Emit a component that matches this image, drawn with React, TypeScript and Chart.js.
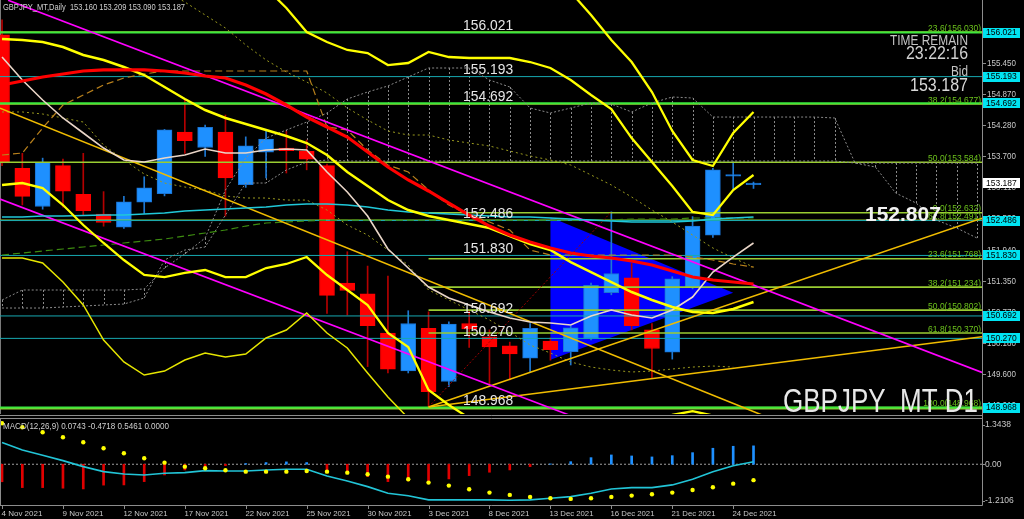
import React, { useEffect, useRef } from "react";
import { Chart, registerables } from "chart.js";

Chart.register(...registerables);

// ---------------- DATA ----------------
const barDates = ["4 Nov","5 Nov","8 Nov","9 Nov","10 Nov","11 Nov","12 Nov","15 Nov","16 Nov","17 Nov","18 Nov","19 Nov","22 Nov","23 Nov","24 Nov","25 Nov","26 Nov","29 Nov","30 Nov","1 Dec","2 Dec","3 Dec","6 Dec","7 Dec","8 Dec","9 Dec","10 Dec","13 Dec","14 Dec","15 Dec","16 Dec","17 Dec","20 Dec","21 Dec","22 Dec","23 Dec","24 Dec","27 Dec"];
const dateYear = "2021";
const dateLabelStep = 3;

const opens  = [155.98,153.47,152.75,153.52,152.98,152.61,152.36,152.83,152.99,154.15,153.86,154.15,153.16,153.77,153.85,153.79,153.52,151.31,151.11,150.37,149.66,150.46,149.46,150.55,150.30,150.13,149.90,150.22,150.02,150.27,151.13,151.41,150.43,150.01,151.23,152.21,153.32,153.16];
const highs  = [156.26,153.75,153.66,153.64,153.75,153.03,152.94,153.31,154.20,154.75,154.28,154.47,154.06,154.19,154.16,154.00,153.55,151.90,151.63,151.44,150.79,150.77,150.58,150.80,150.43,150.20,150.55,150.28,150.50,151.31,152.65,151.68,150.55,151.43,152.56,153.47,153.59,153.21];
const lows   = [153.52,152.78,152.70,152.74,152.59,152.38,152.34,152.62,152.95,153.75,153.69,152.57,153.11,153.29,153.38,153.44,150.74,150.71,149.74,149.62,149.62,148.97,149.36,150.10,149.36,149.49,149.64,149.86,149.77,150.24,151.09,150.43,149.52,149.88,151.20,152.17,153.07,153.09];
const closes = [153.57,152.94,153.58,153.04,152.67,152.45,152.84,153.10,154.19,153.99,154.24,153.29,153.89,154.02,153.80,153.64,151.08,151.17,150.51,149.69,150.55,149.27,150.54,150.45,150.11,149.98,150.46,150.06,150.47,151.27,151.49,150.51,150.08,151.39,152.38,153.44,153.35,153.19];

const redMA = [155.035,155.111,155.186,155.242,155.299,155.318,155.318,155.318,155.299,155.261,155.205,155.167,155.035,154.866,154.659,154.433,154.245,154.057,153.775,153.493,153.249,153.042,152.816,152.590,152.383,152.214,152.082,151.970,151.876,151.819,151.782,151.725,151.650,151.537,151.424,151.368,151.330,151.293];
const bandA = [155.900,155.882,155.844,155.750,155.600,155.506,155.374,155.223,154.998,154.772,154.565,154.415,154.302,154.189,154.076,153.944,153.719,153.399,153.136,152.872,152.684,152.571,152.496,152.421,152.346,152.195,152.045,151.932,151.706,151.518,151.330,151.142,150.992,150.860,150.766,150.747,150.822,150.954];
const bandB = [153.155,153.192,153.098,152.778,152.402,152.064,151.744,151.462,151.424,151.500,151.556,151.424,151.424,151.593,151.669,151.800,151.462,151.180,150.898,150.371,150.108,149.299,149.017,148.772,148.547,148.359,148.359,148.359,148.359,148.359,148.400,148.500,148.700,148.830,148.900,148.820,148.547,148.170];
const bandC = [151.782,151.782,151.688,151.330,150.898,150.239,149.826,149.581,149.656,149.863,149.995,149.920,149.976,150.277,150.427,150.747,150.371,150.089,149.619,149.167,148.772,148.359];
const bandD = [null,null,null,null,null,null,null,null,null,null,null,null,157.292,156.860,156.484,156.032,155.844,155.694,155.637,155.411,155.449,155.656,155.562,155.543,155.543,155.543,155.468,155.355,155.129,154.847,154.584,154.038,153.587,153.136,152.647,152.590,153.060,153.343];
const bandE = [null,null,null,null,null,null,null,null,null,null,null,null,null,null,null,null,null,null,null,null,null,null,null,null,null,null,null,157.198,156.784,156.352,155.882,155.468,154.904,154.170,153.625,153.512,154.133,154.528];
const paleMA = [155.562,155.129,154.753,154.415,154.133,153.850,153.625,153.587,153.662,153.719,153.832,153.757,153.757,153.813,153.832,153.813,153.399,153.023,152.571,151.951,151.594,151.236,151.029,150.898,150.766,150.653,150.578,150.559,150.521,150.690,150.804,150.710,150.653,150.804,151.048,151.518,151.800,152.064];
const cyanMA = [152.553,152.553,152.572,152.572,152.581,152.590,152.590,152.609,152.628,152.666,152.684,152.703,152.722,152.741,152.778,152.797,152.797,152.778,152.741,152.684,152.647,152.628,152.609,152.590,152.572,152.553,152.553,152.534,152.515,152.496,152.477,152.459,152.459,152.459,152.477,152.515,152.534,152.553];
const greenMA = [151.838,151.876,151.913,151.951,151.989,152.026,152.064,152.101,152.139,152.195,152.252,152.308,152.383,152.440,152.459,152.477,152.496,152.496,152.496,152.496,152.496,152.496,152.496,152.496,152.496,152.496,152.496,152.496,152.496,152.496,152.496,152.515,152.515,152.515,152.534,152.534,152.534,152.534];
const kijun = [153.719,153.756,154.227,154.659,154.847,155.035,155.167,155.242,155.299,155.299,155.299,155.299,155.299,155.299,155.299,155.299,154.245,154.189,153.813,153.531,153.399,153.061,152.778,152.590,152.459,152.308,151.932,151.838,151.838,151.838,151.838,151.838,151.838,151.838,151.800,151.744,151.669,151.612];
const oliveUpper = [null,null,null,null,null,null,null,null,156.822,156.596,156.352,156.107,155.788,155.506,155.280,155.092,154.885,154.603,154.377,154.170,154.095,154.095,154.001,153.944,153.888,153.794,153.700,153.625,153.531,153.343,153.155,152.929,152.684,152.459,152.214,151.970,151.782,151.612];
const oliveLower = [154.528,154.528,154.490,154.415,154.339,153.907,153.625,153.361,153.192,153.117,153.061,152.948,152.910,152.910,152.872,152.872,152.684,152.402,152.214,151.932,151.650,151.180,150.992,150.804,150.616,150.390,150.145,149.995,149.826,149.731,149.675,149.638,149.656,149.694,149.731,149.750,149.731];
const cloudSpanA = [150.992,151.180,151.180,151.180,151.180,151.180,151.180,151.199,151.594,151.858,152.158,153.061,153.662,154.038,154.189,154.339,154.509,154.772,154.904,155.017,155.186,155.355,155.355,155.355,155.129,154.998,154.603,154.509,154.603,154.697,154.678,154.528,154.697,154.810,154.791,154.433,154.433,154.433,154.433,154.433,154.433,154.415,153.568,153.493,153.004,152.816,152.496,152.346,152.158];
const cloudSpanB = [150.841,150.841,150.841,150.860,150.879,150.898,150.916,151.029,151.744,151.932,151.989,152.590,153.192,153.192,153.437,153.587,153.625,153.606,153.606,153.606,153.606,153.606,153.606,153.606,153.606,153.606,153.606,153.606,153.606,153.606,153.606,153.606,153.606,153.606,153.606,153.606,153.606,153.606,153.606,153.606,153.606,153.606,153.568,153.568,153.568,153.568,153.568,153.568,153.568];

const macdLine   = [0.647,0.424,0.27,0.107,-0.071,-0.22,-0.288,-0.318,-0.267,-0.249,-0.19,-0.199,-0.199,-0.169,-0.148,-0.148,-0.347,-0.496,-0.665,-0.861,-0.935,-1.059,-1.059,-1.059,-1.059,-1.068,-1.059,-1.009,-0.961,-0.861,-0.733,-0.694,-0.694,-0.614,-0.445,-0.22,-0.042,0.074];
const macdSignal = [1.217,1.098,0.95,0.801,0.653,0.475,0.326,0.178,0.047,-0.071,-0.119,-0.178,-0.22,-0.22,-0.22,-0.199,-0.22,-0.249,-0.297,-0.368,-0.445,-0.546,-0.635,-0.742,-0.843,-0.911,-0.97,-1.009,-1.03,-1.009,-0.97,-0.932,-0.89,-0.843,-0.763,-0.682,-0.576,-0.472];
const macdHist   = [-0.52,-0.694,-0.694,-0.712,-0.733,-0.62,-0.614,-0.516,-0.318,-0.169,-0.071,-0.04,0.02,0.05,0.07,0.05,-0.169,-0.267,-0.366,-0.516,-0.495,-0.564,-0.436,-0.338,-0.237,-0.169,-0.071,0.01,0.077,0.196,0.276,0.246,0.217,0.255,0.344,0.475,0.534,0.546];

const priceTicks = [156.030,155.450,154.870,154.280,153.700,153.110,152.530,151.940,151.350,150.770,150.180,149.600,149.010];
const macdTicks = [1.3438, 0.0, -1.2106];
const levelPrices = [156.021,155.193,154.692,152.486,151.830,150.692,150.270,148.968];
const greenLevelPrices = [156.021,154.692,148.968];
const bidPrice = 153.187;
const fibMainPct = ["23.6","38.2","50.0","61.8"];
const fibMainPrices = [156.030,154.677,153.584,152.491];
const fibMainFull = 148.950;
const fibSwingPct = ["0.0","23.6","38.2","50.0","61.8","100.0"];
const fibSwingPrices = [152.632,151.768,151.234,150.802,150.370,148.968];
const fibSwingStart = 21;

const magentaUpper = [[0.3,156.63],[48.25,149.63]];
const magentaLower = [[-0.1,152.89],[28.6,148.73]];
const goldDown = [[-0.1,154.60],[38,148.74]];
const goldUpSteep = [[21,148.98],[48.25,152.53]];
const goldUpFlat = [[21,148.98],[48.25,150.30]];
const redDotted = [[21,148.98],[30,152.65]];
const wedgeTriangle = [[27,152.55],[27,149.87],[36,151.13]];

const headerText = "GBPJPY_MT,Daily  153.160 153.209 153.090 153.187";
const macdText = "MACD(12,26,9) 0.0743 -0.4718 0.5461 0.0000";
const timeRemain = "23:22:16";
const bigValue = "152.807";
const symbolText = "GBPJPY_MT D1";

// ---------------- LAYOUT CONSTANTS ----------------
const X_MIN = -0.1;
const X_MAX = 48.25;
const PRICE_MIN = 148.848;
const PRICE_MAX = 156.634;
const MACD_MIN = -1.2106;
const MACD_MAX = 1.3438;
const LEVEL_LABEL_INDEX = 22.7;
const FONT = "'Liberation Sans', Arial, sans-serif";
const AXIS_TXT = "#c8c8c8";

const pts = (arr: (number | null)[]) => arr.map((v, i) => ({ x: i, y: v }));
const seg = (p: number[][]) => p.map(([x, y]) => ({ x, y }));
const hline = (v: number, from = X_MIN) => [{ x: from, y: v }, { x: X_MAX, y: v }];

function lineDs(data: any[], color: string, width: number, order: number, extra: any = {}) {
  return { type: "line", data, borderColor: color, borderWidth: width, pointRadius: 0, fill: false, tension: 0, clip: 0, order, ...extra };
}

function text(ctx: CanvasRenderingContext2D, s: string, x: number, y: number, size: number, color: string, align: CanvasTextAlign = "left", maxW?: number, weight = "normal", baseline: CanvasTextBaseline = "alphabetic") {
  ctx.font = `${weight} ${size}px ${FONT}`;
  ctx.fillStyle = color;
  ctx.textAlign = align;
  ctx.textBaseline = baseline;
  if (maxW !== undefined) ctx.fillText(s, x, y, maxW);
  else ctx.fillText(s, x, y);
}

const mainDecor = {
  id: "mainDecor",
  beforeDatasetsDraw(chart: any) {
    const { ctx, chartArea: a, scales } = chart;
    const x = scales.x, y = scales.y;
    ctx.save();
    ctx.beginPath();
    ctx.rect(a.left, a.top, a.right - a.left, a.bottom - a.top);
    ctx.clip();
    ctx.strokeStyle = "#7a7a7a";
    ctx.lineWidth = 1;
    ctx.beginPath(); ctx.moveTo(0.5, 0); ctx.lineTo(0.5, a.bottom); ctx.stroke();
    ctx.strokeStyle = "#8a8a8a";
    ctx.setLineDash([2, 2]);
    cloudSpanA.forEach((v, i) => {
      const px = Math.round(x.getPixelForValue(i)) + 0.5;
      ctx.beginPath();
      ctx.moveTo(px, y.getPixelForValue(v));
      ctx.lineTo(px, y.getPixelForValue(cloudSpanB[i]));
      ctx.stroke();
    });
    ctx.setLineDash([]);
    ctx.fillStyle = "#0000ff";
    ctx.beginPath();
    wedgeTriangle.forEach(([ix, p], k) => {
      const px = x.getPixelForValue(ix), py = y.getPixelForValue(p);
      if (k === 0) ctx.moveTo(px, py); else ctx.lineTo(px, py);
    });
    ctx.closePath();
    ctx.fill();
    ctx.restore();
  },
  afterDatasetsDraw(chart: any) {
    const { ctx, chartArea: a, scales } = chart;
    const x = scales.x, y = scales.y;
    ctx.save();
    const lx = x.getPixelForValue(LEVEL_LABEL_INDEX);
    levelPrices.forEach((v) => {
      text(ctx, v.toFixed(3), lx, y.getPixelForValue(v) - 2.5, 15, "#e6e6e6", "left", 50);
    });
    fibMainPct.forEach((pct, i) => {
      text(ctx, `${pct}(${fibMainPrices[i].toFixed(3)})`, a.right - 1, y.getPixelForValue(fibMainPrices[i]) - 1.5, 8.5, "#6cc21c", "right", 54);
    });
    fibSwingPct.forEach((pct, i) => {
      text(ctx, `${pct}(${fibSwingPrices[i].toFixed(3)})`, a.right - 1, y.getPixelForValue(fibSwingPrices[i]) - 1.5, 8.5, "#6cc21c", "right", 58);
    });
    text(ctx, "TIME REMAIN", 968, 44.5, 15, "#c4c4c4", "right", 78);
    text(ctx, timeRemain, 968, 58.5, 17.5, "#d0d0d0", "right", 62);
    text(ctx, "Bid", 968, 76, 15, "#c4c4c4", "right", 17);
    text(ctx, bidPrice.toFixed(3), 968, 90.5, 18.5, "#d8d8d8", "right", 58);
    text(ctx, bigValue, 865, 221, 21, "#f2f2f2", "left", 80, "bold");
    text(ctx, symbolText, 783, 412, 33, "#e8e8e8", "left", 195);
    text(ctx, headerText, 3, 10, 8.5, "#d0d0d0", "left", 182);
    ctx.restore();
  },
  afterDraw(chart: any) {
    const { ctx, chartArea: a, scales } = chart;
    const y = scales.y;
    ctx.save();
    ctx.strokeStyle = "#8c8c8c";
    ctx.lineWidth = 1;
    ctx.beginPath(); ctx.moveTo(a.right + 0.5, 0); ctx.lineTo(a.right + 0.5, chart.height); ctx.stroke();
    ctx.beginPath(); ctx.moveTo(0, a.bottom + 1.5); ctx.lineTo(a.right + 0.5, a.bottom + 1.5); ctx.stroke();
    priceTicks.forEach((v) => {
      const py = Math.round(y.getPixelForValue(v)) + 0.5;
      ctx.beginPath(); ctx.moveTo(a.right, py); ctx.lineTo(a.right + 4, py); ctx.stroke();
      text(ctx, v.toFixed(3), a.right + 5, py, 8.5, AXIS_TXT, "left", 29, "normal", "middle");
    });
    levelPrices.forEach((v) => {
      const py = y.getPixelForValue(v);
      ctx.fillStyle = "#00e4f2";
      ctx.fillRect(a.right + 1, Math.round(py) - 5, 37, 10);
      text(ctx, v.toFixed(3), a.right + 4, py, 8.5, "#000000", "left", 31, "normal", "middle");
    });
    const bp = y.getPixelForValue(bidPrice);
    ctx.fillStyle = "#ffffff";
    ctx.fillRect(a.right + 1, Math.round(bp) - 5, 37, 10);
    text(ctx, bidPrice.toFixed(3), a.right + 4, bp, 8.5, "#000000", "left", 31, "normal", "middle");
    ctx.restore();
  },
};

const macdDecor = {
  id: "macdDecor",
  afterDraw(chart: any) {
    const { ctx, chartArea: a, scales } = chart;
    const x = scales.x, y = scales.y;
    ctx.save();
    ctx.strokeStyle = "#8c8c8c";
    ctx.lineWidth = 1;
    ctx.beginPath(); ctx.moveTo(0, a.top - 0.5); ctx.lineTo(a.right + 0.5, a.top - 0.5); ctx.stroke();
    ctx.beginPath(); ctx.moveTo(0, a.bottom + 0.5); ctx.lineTo(a.right + 0.5, a.bottom + 0.5); ctx.stroke();
    ctx.beginPath(); ctx.moveTo(a.right + 0.5, 0); ctx.lineTo(a.right + 0.5, a.bottom + 0.5); ctx.stroke();
    ctx.beginPath(); ctx.moveTo(0.5, a.top); ctx.lineTo(0.5, a.bottom); ctx.stroke();
    macdTicks.forEach((v) => {
      let py = y.getPixelForValue(v);
      if (v === MACD_MAX) py += 6;
      if (v === MACD_MIN) py -= 4.5;
      ctx.beginPath(); ctx.moveTo(a.right, Math.round(py) + 0.5); ctx.lineTo(a.right + 3, Math.round(py) + 0.5); ctx.stroke();
      text(ctx, v === 0 ? "0.00" : v.toFixed(4), a.right + 3, py, 8.5, AXIS_TXT, "left", 36, "normal", "middle");
    });
    barDates.forEach((d, i) => {
      if (i % dateLabelStep !== 0) return;
      const px = Math.round(x.getPixelForValue(i)) + 0.5;
      ctx.beginPath(); ctx.moveTo(px, a.bottom); ctx.lineTo(px, a.bottom + 4); ctx.stroke();
      text(ctx, `${d} ${dateYear}`, px - 1, a.bottom + 10.5, 8, AXIS_TXT, "left", 44);
    });
    text(ctx, macdText, 3, a.top + 10, 8.5, "#d0d0d0", "left", 166);
    ctx.restore();
  },
};

const xScaleCfg = { type: "linear", min: X_MIN, max: X_MAX, display: false, offset: false, grid: { offset: false } };

function buildMain(): any {
  const up = closes.map((c, i) => c >= opens[i]);
  const datasets: any[] = [];
  datasets.push({
    type: "bar", data: barDates.map((_, i) => ({ x: i, y: [lows[i], highs[i]] })),
    backgroundColor: up.map((u) => (u ? "#1e78d2" : "#b40000")), barThickness: 1, grouped: false, clip: 0, order: 60,
  });
  datasets.push({
    type: "bar", data: barDates.map((_, i) => ({ x: i, y: [opens[i], closes[i]] })),
    backgroundColor: up.map((u) => (u ? "#1e90ff" : "#ff0000")),
    borderColor: up.map((u) => (u ? "#1a74d4" : "#ff0000")), borderWidth: 1, borderSkipped: false,
    barThickness: 15, grouped: false, clip: 0, order: 59,
  });
  fibMainPrices.forEach((v) => datasets.push(lineDs(hline(v), "#9acd32", 1.6, 52)));
  datasets.push(lineDs(hline(fibMainFull), "#9acd32", 1.6, 52));
  fibSwingPrices.forEach((v) => datasets.push(lineDs(hline(v, fibSwingStart), "#9acd32", 1.6, 52)));
  levelPrices.forEach((v) => {
    const g = greenLevelPrices.includes(v);
    datasets.push(lineDs(hline(v), g ? "#3de83d" : "#17a8b0", g ? 2 : 1, 51));
  });
  datasets.push(lineDs(pts(cloudSpanA), "#8a8a8a", 1, 48, { borderDash: [2, 2] }));
  datasets.push(lineDs(pts(cloudSpanB), "#8a8a8a", 1, 48, { borderDash: [2, 2] }));
  datasets.push(lineDs(pts(greenMA), "#3d8c10", 1.2, 46, { borderDash: [7, 4] }));
  datasets.push(lineDs(pts(kijun), "#b8801c", 1.2, 46, { borderDash: [7, 4] }));
  datasets.push(lineDs(pts(oliveUpper), "#9a9a1e", 1, 46, { borderDash: [2, 3] }));
  datasets.push(lineDs(pts(oliveLower), "#9a9a1e", 1, 46, { borderDash: [2, 3] }));
  datasets.push(lineDs(seg(redDotted), "#a00000", 1, 40, { borderDash: [2, 2] }));
  datasets.push(lineDs(seg(magentaUpper), "#ff00ff", 1.6, 38));
  datasets.push(lineDs(seg(magentaLower), "#ff00ff", 1.6, 38));
  datasets.push(lineDs(seg(goldDown), "#f0bc00", 1.6, 38));
  datasets.push(lineDs(seg(goldUpSteep), "#f0bc00", 1.6, 38));
  datasets.push(lineDs(seg(goldUpFlat), "#f0bc00", 1.6, 38));
  datasets.push(lineDs(pts(cyanMA), "#20c8d8", 1.6, 30));
  datasets.push(lineDs(pts(paleMA), "#ead6c8", 1.6, 29));
  datasets.push(lineDs(pts(bandC), "#e6e600", 1.5, 25));
  datasets.push(lineDs(pts(bandB), "#ffff00", 2.3, 24));
  datasets.push(lineDs(pts(bandD), "#ffff00", 2.3, 24));
  datasets.push(lineDs(pts(bandE), "#ffff00", 2.3, 24));
  datasets.push(lineDs(pts(bandA), "#ffff00", 2.5, 23));
  datasets.push(lineDs(pts(redMA), "#ff0000", 3.2, 20));
  return {
    type: "line",
    data: { datasets },
    options: {
      animation: false, responsive: false, maintainAspectRatio: false, events: [],
      layout: { padding: { left: 0, right: 42, top: 0, bottom: 2 }, autoPadding: false },
      plugins: { legend: { display: false }, tooltip: { enabled: false }, title: { display: false } },
      scales: {
        x: xScaleCfg,
        y: { type: "linear", min: PRICE_MIN, max: PRICE_MAX, display: false, beginAtZero: false },
      },
    },
    plugins: [mainDecor],
  };
}

function buildMacd(): any {
  const datasets: any[] = [
    lineDs(macdLine.map((v, i) => ({ x: i, y: v })), "#22c4d6", 1.6, 5),
    lineDs(macdSignal.map((v, i) => ({ x: i, y: v })), "#ffff00", 0, 4, {
      showLine: false, pointRadius: 2.2, pointBackgroundColor: "#ffff00", pointBorderWidth: 0,
    }),
    {
      type: "bar", data: macdHist.map((v, i) => ({ x: i, y: v })),
      backgroundColor: macdHist.map((v) => (v >= 0 ? "#1e90ff" : "#e00000")),
      barThickness: 2, grouped: false, clip: 0, order: 8,
    },
    lineDs([{ x: X_MIN, y: 0 }, { x: X_MAX, y: 0 }], "#a0a0a0", 1, 9, { borderDash: [2, 2] }),
  ];
  return {
    type: "line",
    data: { datasets },
    options: {
      animation: false, responsive: false, maintainAspectRatio: false, events: [],
      layout: { padding: { left: 0, right: 42, top: 3, bottom: 14 }, autoPadding: false },
      plugins: { legend: { display: false }, tooltip: { enabled: false }, title: { display: false } },
      scales: {
        x: xScaleCfg,
        y: { type: "linear", min: MACD_MIN, max: MACD_MAX, display: false, beginAtZero: false },
      },
    },
    plugins: [macdDecor],
  };
}

export default function App() {
  const mainRef = useRef<HTMLCanvasElement>(null);
  const macdRef = useRef<HTMLCanvasElement>(null);
  useEffect(() => {
    document.body.style.margin = "0";
    document.body.style.background = "#000";
    const c1 = new Chart(mainRef.current as HTMLCanvasElement, buildMain());
    const c2 = new Chart(macdRef.current as HTMLCanvasElement, buildMacd());
    return () => {
      c1.destroy();
      c2.destroy();
    };
  }, []);
  return (
    <div style={{ position: "absolute", left: 0, top: 0, width: 1024, height: 519, background: "#000", overflow: "hidden" }}>
      <canvas ref={mainRef} width={1024} height={416} style={{ position: "absolute", left: 0, top: 0, width: 1024, height: 416 }} />
      <canvas ref={macdRef} width={1024} height={103} style={{ position: "absolute", left: 0, top: 416, width: 1024, height: 103 }} />
    </div>
  );
}
